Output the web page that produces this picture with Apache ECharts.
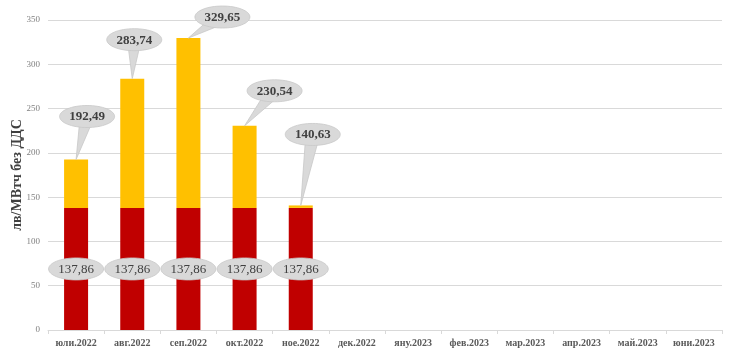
<!DOCTYPE html>
<html><head><meta charset="utf-8">
<script src="https://cdn.jsdelivr.net/npm/echarts@6/dist/echarts.min.js"></script>
<style>html,body{margin:0;padding:0;background:#fff}#c{width:731px;height:357px}</style>
</head><body><div id="c"></div>
<script>
var categories = ['юли.2022','авг.2022','сеп.2022','окт.2022','ное.2022','дек.2022','яну.2023','фев.2023','мар.2023','апр.2023','май.2023','юни.2023'];
var baseValues = [137.86, 137.86, 137.86, 137.86, 137.86];
var totalValues = [192.49, 283.74, 329.65, 230.54, 140.63];
var yTicks = {min: 0, max: 350, interval: 50};
var yAxisName = 'лв/МВтч без ДДС';

// callout placement (pixel offsets of bubble centre from the bar top), styling only
var calloutOffsets = [[11,-43],[2,-39],[34,-21],[30,-35],[12,-71]];

var extraValues = totalValues.map(function(t,i){return +(t - baseValues[i]).toFixed(2);});
function fmt(v){return v.toFixed(2).replace('.', ',');}

var chart = echarts.init(document.getElementById('c'));
var serif = '"Liberation Serif","DejaVu Serif",serif';

function bubble(cx, cy, text, bold, tip){
  var children = [];
  var rx = 27.5, ry = 11;
  if (tip){
    var dx = tip[0]-cx, dy = tip[1]-cy;
    var len = Math.sqrt(dx*dx+dy*dy)||1;
    var nx = -dy/len, ny = dx/len, w = 7;
    children.push({type:'polygon', shape:{points:[[cx+nx*w,cy+ny*w],[cx-nx*w,cy-ny*w],tip]},
      style:{fill:'#d9d9d9', stroke:'#c8c8c8', lineWidth:0.8}});
  }
  children.push({type:'ellipse', shape:{cx:cx, cy:cy, rx:rx, ry:ry},
    style:{fill:'#d9d9d9', stroke:'#c8c8c8', lineWidth:0.8}});
  if (tip){
    children.push({type:'ellipse', shape:{cx:cx, cy:cy, rx:rx-1, ry:ry-1}, style:{fill:'#d9d9d9'}});
  }
  children.push({type:'text', style:{x:cx, y:cy+0.5, text:text, align:'center', verticalAlign:'middle',
    fill:'#404040', font:(bold?'bold ':'')+'13px '+serif}});
  return {type:'group', children:children};
}

chart.setOption({
  animation:false,
  grid:{left:48, right:9, top:20, bottom:27, outerBoundsMode:'none', containLabel:false},
  graphic:[{type:'text', x:17, y:175, rotation:Math.PI/2,
    style:{text:yAxisName, align:'center', verticalAlign:'middle', fill:'#404040',
      font:'bold 14px '+serif}}],
  xAxis:{type:'category', data:categories,
    axisLine:{lineStyle:{color:'#d9d9d9'}},
    axisTick:{show:true, alignWithLabel:false, length:4, lineStyle:{color:'#d9d9d9'}},
    axisLabel:{color:'#595959', fontFamily:serif, fontWeight:'bold', fontSize:10, margin:8, interval:0}},
  yAxis:{type:'value', min:yTicks.min, max:yTicks.max, interval:yTicks.interval,
    axisLine:{show:false}, axisTick:{show:false},
    axisLabel:{color:'#7f7f7f', fontSize:9, fontFamily:serif, margin:8},
    splitLine:{lineStyle:{color:'#d9d9d9'}}},
  series:[
    {type:'bar', stack:'a', data:baseValues, barWidth:24, itemStyle:{color:'#c00000'}},
    {type:'bar', stack:'a', data:extraValues, barWidth:24, itemStyle:{color:'#ffc000'}},
    {type:'custom', data:baseValues.map(function(v,i){return [i, v];}), z:10,
      renderItem:function(params, api){
        var i = api.value(0), v = api.value(1);
        var p = api.coord([i, v/2]);
        return bubble(p[0], p[1], fmt(v), false, null);
      }},
    {type:'custom', data:totalValues.map(function(v,i){return [i, v];}), z:10,
      renderItem:function(params, api){
        var i = api.value(0), v = api.value(1);
        var p = api.coord([i, v]);
        var o = calloutOffsets[params.dataIndex];
        return bubble(p[0]+o[0], p[1]+o[1], fmt(v), true, [p[0], p[1]]);
      }}
  ]
});
</script></body></html>
